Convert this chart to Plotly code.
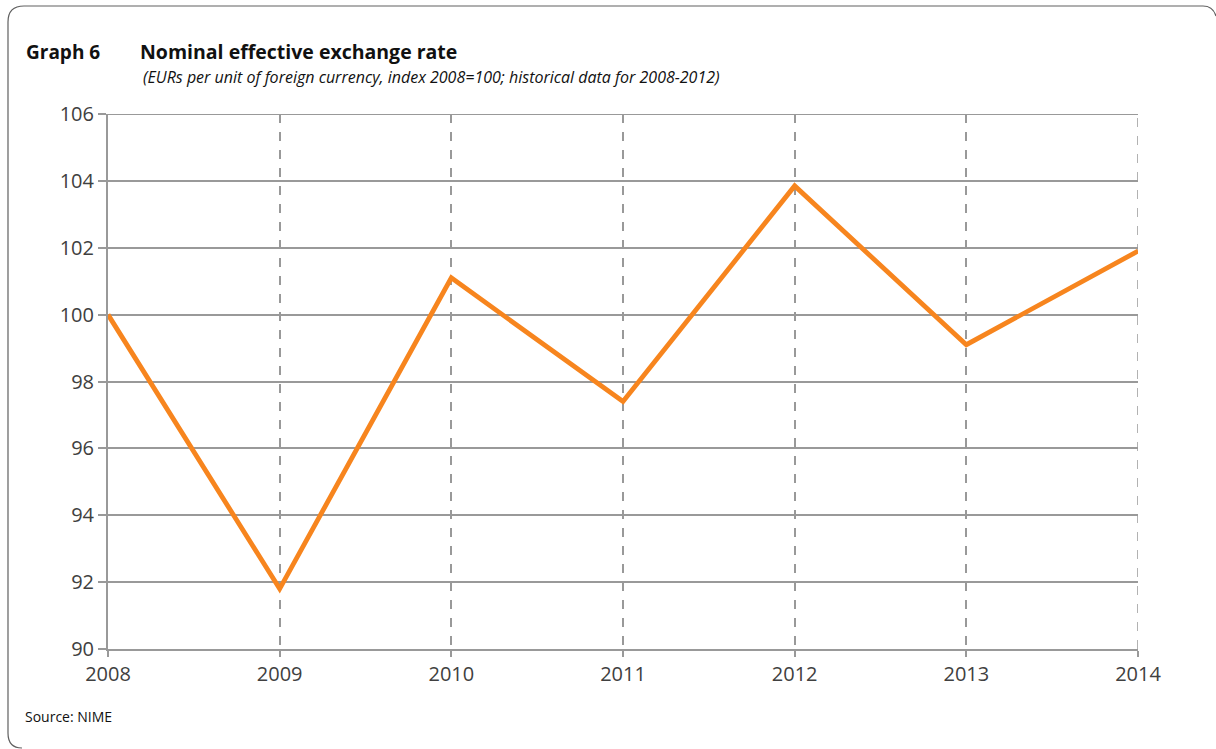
import plotly.graph_objects as go

years = [2008, 2009, 2010, 2011, 2012, 2013, 2014]
index_values = [100.0, 91.8, 101.1, 97.4, 103.85, 99.1, 101.9]
y_ticks = [90, 92, 94, 96, 98, 100, 102, 104, 106]

W, H = 1216, 749
L, R, T, B = 108, 1138, 114, 649

def px(x):
    return (x - L) / (R - L)

def py(y):
    return (B - y) / (B - T)

fig = go.Figure()
fig.add_trace(go.Scatter(x=years, y=index_values, mode="lines",
                         line=dict(color="#F7851E", width=4.8), hoverinfo="x+y"))

grid_col = "#999999"
tick_font = dict(family="Open Sans, DejaVu Sans, sans-serif", size=20, color="#404040")
fig.update_layout(
    width=W, height=H,
    margin=dict(l=L, r=W - R, t=T, b=H - B, pad=0),
    paper_bgcolor="white", plot_bgcolor="white",
    showlegend=False,
    font=dict(family="Open Sans, DejaVu Sans, sans-serif", color="#404040"),
    xaxis=dict(range=[2008, 2014], tickvals=years, ticktext=[str(y) for y in years],
               showgrid=True, gridcolor=grid_col, griddash="dash", gridwidth=1.5,
               showline=True, linecolor=grid_col, linewidth=2,
               ticks="outside", ticklen=6, tickcolor=grid_col, tickwidth=1.5,
               tickfont=tick_font, zeroline=False, fixedrange=True),
    yaxis=dict(range=[90, 106], tickvals=y_ticks,
               showgrid=True, gridcolor=grid_col, gridwidth=2,
               showline=True, linecolor=grid_col, linewidth=2,
               ticks="outside", ticklen=8, tickcolor=grid_col, tickwidth=1.5,
               tickfont=tick_font, zeroline=False, fixedrange=True),
)

# gridlines at the range edges
fig.add_shape(type="line", xref="x", yref="y", x0=years[0], x1=years[-1], y0=y_ticks[-1], y1=y_ticks[-1],
              line=dict(color=grid_col, width=2), layer="below")
fig.add_shape(type="line", xref="x", yref="y", x0=years[-1], x1=years[-1], y0=y_ticks[0], y1=y_ticks[-1],
              line=dict(color=grid_col, width=1.5, dash="dash"), layer="below")

# border (rounded) in paper coords
pts = [
    ("M", 1216, 16), ("Q", 1213, 6, 1203, 6), ("L", 24, 6), ("Q", 8, 6, 8, 22),
    ("L", 8, 733), ("Q", 8, 748, 22, 748),
]
path = ""
for p in pts:
    coords = p[1:]
    s = []
    for i in range(0, len(coords), 2):
        s.append(f"{px(coords[i]):.5f},{py(coords[i+1]):.5f}")
    path += p[0] + " " + " ".join(s) + " "
fig.add_shape(type="path", path=path, xref="paper", yref="paper",
              line=dict(color="#606060", width=1.2), layer="above")

head_font = "Liberation Sans Narrow, Open Sans, sans-serif"
fig.add_annotation(x=px(24), y=py(52), xref="paper", yref="paper", xanchor="left", yanchor="middle",
                   text="<b>Graph 6</b>", showarrow=False,
                   font=dict(family=head_font, size=19, color="#111111"))
fig.add_annotation(x=px(138), y=py(52), xref="paper", yref="paper", xanchor="left", yanchor="middle",
                   text="<b>Nominal effective exchange rate</b>", showarrow=False,
                   font=dict(family=head_font, size=19.5, color="#111111"))
fig.add_annotation(x=px(141), y=py(77), xref="paper", yref="paper", xanchor="left", yanchor="middle",
                   text="<i>(EURs per unit of foreign currency, index 2008=100; historical data for 2008-2012)</i>",
                   showarrow=False,
                   font=dict(family=head_font, size=16, color="#111111"))
fig.add_annotation(x=px(23), y=py(716), xref="paper", yref="paper", xanchor="left", yanchor="middle",
                   text="Source: NIME", showarrow=False,
                   font=dict(family="Open Sans, sans-serif", size=14, color="#111111"))

fig.write_html("out.html", config={"displayModeBar": False},
               post_script="document.body.style.margin='0';document.body.style.overflow='hidden';")
